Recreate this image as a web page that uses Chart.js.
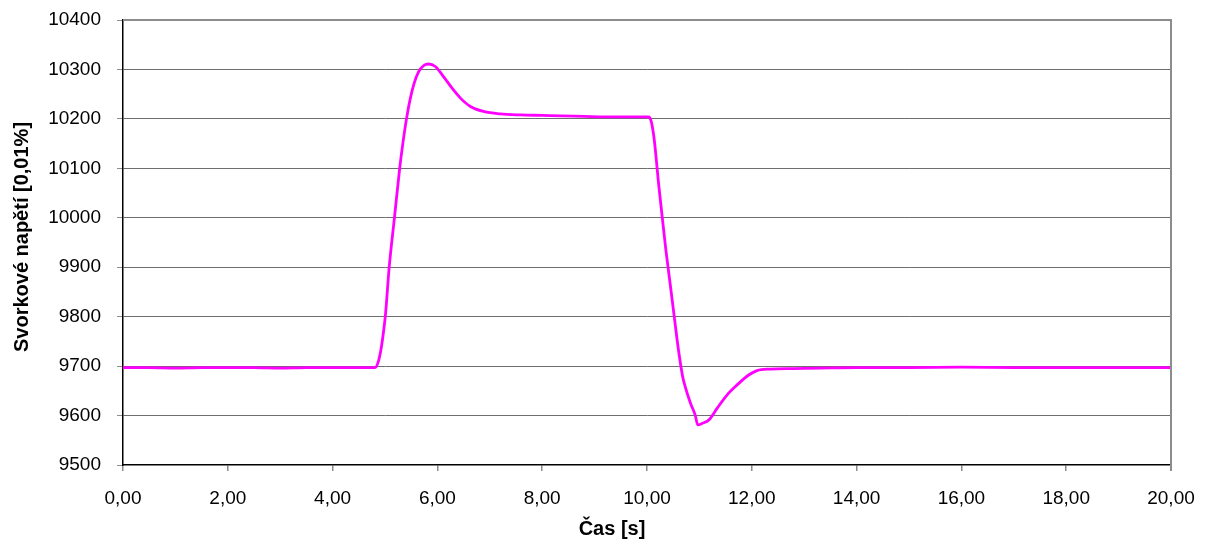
<!DOCTYPE html>
<html>
<head>
<meta charset="utf-8">
<title>Svorkové napětí</title>
<script src="https://cdn.jsdelivr.net/npm/chart.js@4/dist/chart.umd.min.js"></script>
<style>
  html, body { margin: 0; padding: 0; background: #ffffff; }
  #wrap { width: 1213px; height: 541px; position: relative; }
</style>
</head>
<body>
<div id="wrap"><canvas id="c" width="1213" height="541"></canvas></div>
<script>
// Measured terminal voltage over time
const timeSec = [0, 0.5, 1.0, 1.5, 2.0, 2.5, 3.0, 3.5, 4.0, 4.5, 4.81, 4.86, 4.91, 4.96, 5.01, 5.08, 5.18, 5.28, 5.34, 5.41, 5.48, 5.55, 5.64, 5.74, 5.83, 5.96, 6.12, 6.28, 6.44, 6.63, 6.88, 7.20, 7.6, 8.0, 8.35, 8.8, 9.2, 9.6, 10.03, 10.08, 10.13, 10.16, 10.22, 10.29, 10.36, 10.44, 10.52, 10.60, 10.68, 10.73, 10.83, 10.92, 10.97, 11.05, 11.18, 11.34, 11.53, 11.72, 11.94, 12.10, 12.35, 12.8, 13.31, 14, 15, 16, 17, 18, 19, 20];
const voltage = [9697, 9697, 9696, 9697, 9697, 9697, 9696, 9697, 9697, 9697, 9697, 9705, 9726, 9760, 9805, 9900, 10000, 10100, 10150, 10200, 10240, 10270, 10295, 10308, 10311, 10306, 10285, 10262, 10242, 10225, 10215, 10210, 10208, 10207, 10206, 10205, 10204, 10204, 10204, 10195, 10165, 10137, 10070, 10002, 9935, 9868, 9800, 9733, 9679, 9658, 9625, 9601, 9581, 9584, 9591, 9615, 9642, 9662, 9682, 9691, 9694, 9695, 9696, 9697, 9697, 9698, 9697, 9697, 9697, 9697];

const xTickValues = [0, 2, 4, 6, 8, 10, 12, 14, 16, 18, 20];
const yTickValues = [9500, 9600, 9700, 9800, 9900, 10000, 10100, 10200, 10300, 10400];

const xTitle = 'Čas [s]';
const yTitle = 'Svorkové napětí [0,01%]';

const FONT = "'Liberation Sans', Arial, sans-serif";

const points = timeSec.map((t, i) => ({ x: t, y: voltage[i] }));

// Frame on top/right plus the two axis titles
const decor = {
  id: 'decor',
  afterDraw(chart) {
    const { ctx, chartArea: a } = chart;
    ctx.save();
    ctx.strokeStyle = '#8c8c8c';
    ctx.lineWidth = 2;
    ctx.beginPath();
    ctx.moveTo(a.left, a.top);
    ctx.lineTo(a.right, a.top);
    ctx.lineTo(a.right, a.bottom + 6);
    ctx.stroke();

    ctx.fillStyle = '#000';
    ctx.font = 'bold 20px ' + FONT;
    ctx.textAlign = 'center';
    ctx.textBaseline = 'middle';
    ctx.fillText(xTitle, 612, 529);

    ctx.translate(22, 237);
    ctx.rotate(-Math.PI / 2);
    ctx.fillText(yTitle, 0, 0);
    ctx.restore();
  }
};

new Chart(document.getElementById('c'), {
  type: 'line',
  data: {
    datasets: [{
      data: points,
      borderColor: '#ff00ff',
      borderWidth: 2.8,
      pointRadius: 0,
      cubicInterpolationMode: 'monotone',
      fill: false
    }]
  },
  options: {
    responsive: false,
    animation: false,
    events: [],
    layout: { padding: { top: 20, right: 42, left: 0, bottom: 0 } },
    plugins: { legend: { display: false }, tooltip: { enabled: false } },
    scales: {
      x: {
        type: 'linear',
        min: 0, max: 20,
        afterBuildTicks(scale) { scale.ticks = xTickValues.map(v => ({ value: v })); },
        afterFit(scale) { scale.height = 76; scale.paddingLeft = 0; scale.paddingRight = 0; },
        grid: { drawOnChartArea: false, drawTicks: true, tickLength: 6, tickColor: '#8c8c8c', lineWidth: 1.5 },
        border: { color: '#000', width: 1.5 },
        ticks: {
          color: '#000',
          font: { family: FONT, size: 19 },
          padding: 16,
          maxRotation: 0,
          callback: v => v.toFixed(2).replace('.', ',')
        }
      },
      y: {
        type: 'linear',
        min: 9500, max: 10400,
        afterBuildTicks(scale) { scale.ticks = yTickValues.map(v => ({ value: v })); },
        afterFit(scale) { scale.width = 123; scale.paddingTop = 0; scale.paddingBottom = 0; },
        grid: {
          color: ctx => (ctx.tick && (ctx.tick.value === 9500 || ctx.tick.value === 10400)) ? 'rgba(0,0,0,0)' : '#6e6e6e',
          lineWidth: 1,
          drawTicks: true,
          tickLength: 6,
          tickColor: '#8c8c8c'
        },
        border: { color: '#000', width: 1.5 },
        ticks: {
          color: '#000',
          font: { family: FONT, size: 19 },
          padding: 16,
          callback: v => String(v)
        }
      }
    }
  },
  plugins: [decor]
});
</script>
</body>
</html>
